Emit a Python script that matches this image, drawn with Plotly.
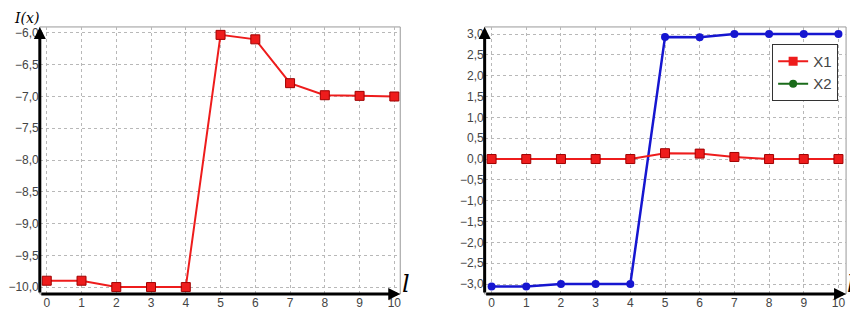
import plotly.graph_objects as go

l_vals = [0, 1, 2, 3, 4, 5, 6, 7, 8, 9, 10]
I_vals = [-9.9, -9.9, -10.0, -10.0, -10.0, -6.03, -6.1, -6.79, -6.98, -6.99, -7.0]
X1_vals = [0.0, 0.0, 0.0, 0.0, 0.0, 0.14, 0.13, 0.05, 0.0, 0.0, 0.0]
X2_vals = [-3.06, -3.06, -3.0, -3.0, -3.0, 2.93, 2.92, 3.0, 3.0, 3.0, 3.0]
left_ticks = [-10.0, -9.5, -9.0, -8.5, -8.0, -7.5, -7.0, -6.5, -6.0]
right_ticks = [-3.0, -2.5, -2.0, -1.5, -1.0, -0.5, 0.0, 0.5, 1.0, 1.5, 2.0, 2.5, 3.0]

# page body has an 8px margin; figure drawn at (8, 8)
OFF = 8
W, H = 858 - OFF, 313 - OFF
RED = "#ee1c1c"
BLUE = "#1616d0"


def px(p):
    return (p - OFF) / W


def py(p):
    return 1 - (p - OFF) / H


fig = go.Figure()
fig.add_trace(go.Scatter(x=l_vals, y=I_vals, mode="lines+markers", xaxis="x", yaxis="y",
                         line=dict(color=RED, width=2),
                         marker=dict(symbol="square", size=9, color=RED, line=dict(color="#a00000", width=1)),
                         showlegend=False))
fig.add_trace(go.Scatter(x=l_vals, y=X2_vals, mode="lines+markers", xaxis="x2", yaxis="y2",
                         line=dict(color=BLUE, width=2.5),
                         marker=dict(symbol="circle", size=8, color=BLUE),
                         showlegend=False))
fig.add_trace(go.Scatter(x=l_vals, y=X1_vals, mode="lines+markers", xaxis="x2", yaxis="y2",
                         line=dict(color=RED, width=2),
                         marker=dict(symbol="square", size=9, color=RED, line=dict(color="#a00000", width=1)),
                         showlegend=False))
# legend entries (as in the original: X1 red square, X2 green circle)
fig.add_trace(go.Scatter(x=[None], y=[None], mode="lines+markers", name="X1", xaxis="x2", yaxis="y2",
                         line=dict(color=RED, width=2),
                         marker=dict(symbol="square", size=9, color=RED)))
fig.add_trace(go.Scatter(x=[None], y=[None], mode="lines+markers", name="X2", xaxis="x2", yaxis="y2",
                         line=dict(color="#1a6b1a", width=2),
                         marker=dict(symbol="circle", size=8, color="#1a6b1a")))

ytop = py(26)
ybot = py(294)
xl = [px(35), px(398)]
xr = [px(483), px(847)]

axis_common = dict(showgrid=True, gridcolor="#b8b8b8", griddash="dot", gridwidth=1,
                   zeroline=False, showline=False, ticks="",
                   tickfont=dict(family="Arial", size=12, color="#444444"))

lx_rng = [-0.2, 10.17]
ly_rng = [-10.11, -5.905]
rx_rng = [-0.2, 10.22]
ry_rng = [-3.24, 3.17]

fig.update_layout(
    width=W, height=H, margin=dict(l=0, r=0, t=0, b=0),
    paper_bgcolor="white", plot_bgcolor="white",
    separators=", ",
    xaxis=dict(domain=xl, range=lx_rng, tickvals=l_vals, anchor="y", ticklabelstandoff=0, **axis_common),
    yaxis=dict(domain=[ybot, ytop], range=ly_rng, tickvals=left_ticks, tickformat=".1f",
               anchor="x", ticklabelstandoff=0, **axis_common),
    xaxis2=dict(domain=xr, range=rx_rng, tickvals=l_vals, anchor="y2", ticklabelstandoff=0, **axis_common),
    yaxis2=dict(domain=[ybot, ytop], range=ry_rng, tickvals=right_ticks, tickformat=".1f",
                anchor="x2", ticklabelstandoff=0, **axis_common),
    legend=dict(x=px(839), y=py(43), xanchor="right", yanchor="top",
                bgcolor="white", bordercolor="#333333", borderwidth=1,
                font=dict(family="Arial", size=15, color="#444444"),
                itemwidth=30, tracegroupgap=0),
)

shapes = []
for xa, ya in (("x", "y"), ("x2", "y2")):
    shapes.append(dict(type="rect", xref=xa + " domain", yref=ya + " domain", x0=0, x1=1, y0=0, y1=1,
                       line=dict(color="#999999", width=1), layer="below"))
fig.update_layout(shapes=shapes)

ann = []
for xa, ya, xr_, yr_ in (("x", "y", lx_rng, ly_rng), ("x2", "y2", rx_rng, ry_rng)):
    # y-axis arrow
    ann.append(dict(x=xr_[0], y=yr_[1], ax=xr_[0], ay=yr_[0],
                    xref=xa, yref=ya, axref=xa, ayref=ya, showarrow=True, text="",
                    arrowhead=2, arrowsize=0.8, arrowwidth=3, arrowcolor="black"))
    # x-axis arrow
    ann.append(dict(x=xr_[1], y=yr_[0], ax=xr_[0], ay=yr_[0],
                    xref=xa, yref=ya, axref=xa, ayref=ya, showarrow=True, text="",
                    arrowhead=2, arrowsize=0.8, arrowwidth=3, arrowcolor="black"))

ann.append(dict(text="<i>I(x)</i>", x=px(8), y=1, xref="paper", yref="paper", xanchor="left", yanchor="top",
                showarrow=False, font=dict(family="DejaVu Serif", size=14, color="black"),
                borderpad=0))
ann.append(dict(text="<i>l</i>", x=px(404), y=py(284), xref="paper", yref="paper", xanchor="center",
                yanchor="middle", showarrow=False, font=dict(family="DejaVu Serif", size=24, color="black")))
ann.append(dict(text="<i>l</i>", x=px(852), y=py(284), xref="paper", yref="paper", xanchor="center",
                yanchor="middle", showarrow=False, font=dict(family="DejaVu Serif", size=24, color="black")))
fig.update_layout(annotations=ann)

fig.write_html("out.html")
